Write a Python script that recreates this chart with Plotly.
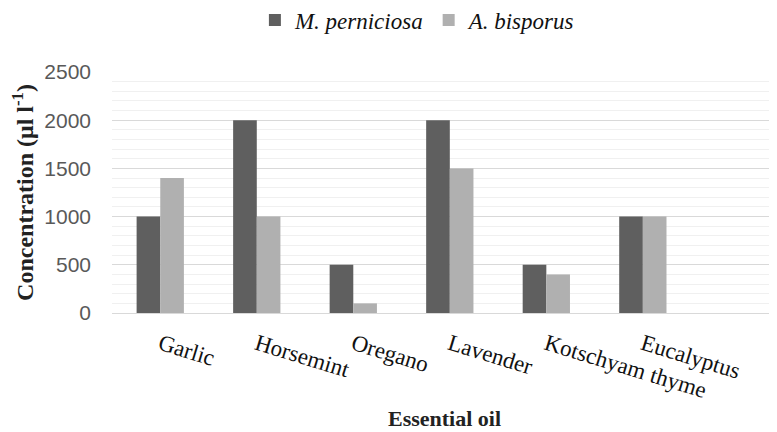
import plotly.graph_objects as go

categories = ["Garlic", "Horsemint", "Oregano", "Lavender", "Kotschyam thyme", "Eucalyptus"]
m_perniciosa = [1000, 2000, 500, 2000, 500, 1000]
a_bisporus = [1400, 1000, 100, 1500, 400, 1000]
y_ticks = [0, 500, 1000, 1500, 2000, 2500]

serif = "Liberation Serif, Times New Roman, serif"

fig = go.Figure()
fig.add_trace(go.Bar(name="M. perniciosa", x=categories, y=m_perniciosa,
                     marker=dict(color="#5f5f5f", line=dict(width=0))))
fig.add_trace(go.Bar(name="A. bisporus", x=categories, y=a_bisporus,
                     marker=dict(color="#b0b0b0", line=dict(width=0))))

fig.update_layout(
    width=777, height=432,
    margin=dict(l=104, r=8, t=64, b=127, autoexpand=False),
    paper_bgcolor="white", plot_bgcolor="white",
    barmode="group", bargap=0.51, bargroupgap=0,
    showlegend=True,
    legend=dict(orientation="h", x=0.46, xanchor="center", y=1.216, yanchor="middle",
                font=dict(family=serif, size=23, color="#111111", style="italic"),
                itemwidth=30, traceorder="normal"),
    xaxis=dict(
        type="category", range=[-0.5, 6.39], automargin=False,
        tickangle=17, tickfont=dict(family=serif, size=23, color="#111111"),
        showgrid=False, showline=True, linecolor="#d9d9d9", linewidth=1,
        ticks="", zeroline=False, ticklabelstandoff=8,
        title=dict(text="<b>Essential oil</b>", font=dict(family=serif, size=22, color="#222222"),
                   standoff=8),
    ),
    yaxis=dict(
        range=[0, 2500], tickvals=y_ticks, automargin=False,
        tickfont=dict(family="Liberation Sans, Arial, sans-serif", size=21, color="#595959"),
        showgrid=True, gridcolor="#d9d9d9", gridwidth=1,
        minor=dict(dtick=100, showgrid=True, gridcolor="#f0f0f0", gridwidth=1),
        zeroline=False, showline=False, ticks="", ticklabelstandoff=20,
        title=dict(text="<b>Concentration (μl l<sup>-1</sup>)</b>",
                   font=dict(family=serif, size=24, color="#222222"), standoff=5),
    ),
)

fig.write_html("out.html")
